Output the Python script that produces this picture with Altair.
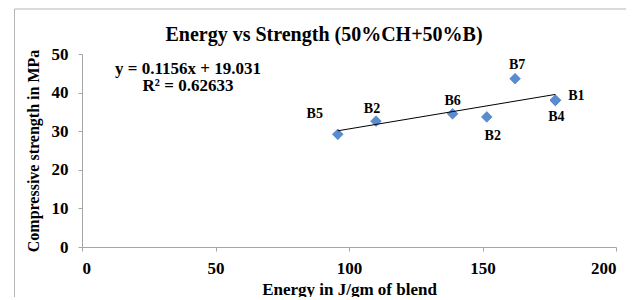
import altair as alt
import pandas as pd

# ---- data ----
labels = ["B5", "B2", "B6", "B2", "B7", "B1", "B4"]
energy = [95.8, 110.1, 138.8, 151.6, 162.2, 177.3, 177.3]
strength = [29.2, 32.6, 34.5, 33.7, 43.6, 38.0, 38.0]
slope = 0.1156
intercept = 19.031
eq_line1 = "y = 0.1156x + 19.031"
eq_line2 = "R² = 0.62633"
x_ticks = [0, 50, 100, 150, 200]
y_ticks = [0, 10, 20, 30, 40, 50]

FONT = "Liberation Serif"
BLUE = "#5A8CD2"

df = pd.DataFrame({"idx": list(range(len(labels))), "label": labels,
                   "energy": energy, "strength": strength})

xscale = alt.Scale(domain=[0, 200], nice=False)
yscale = alt.Scale(domain=[0, 50], nice=False)

xaxis = alt.Axis(values=x_ticks, title="Energy in J/gm of blend",
                 labelOverlap=False, tickCount=5)
yaxis = alt.Axis(values=y_ticks, title="Compressive strength in MPa",
                 labelOverlap=False, tickCount=6)
xenc = alt.X("energy:Q", scale=xscale, axis=xaxis)
yenc = alt.Y("strength:Q", scale=yscale, axis=yaxis)

base = alt.Chart(df)

# outer frame (decoration)
frame = alt.Chart(pd.DataFrame({"a": [0]})).mark_rect(
    fillOpacity=0, stroke="#b5b5b5", strokeWidth=1
).encode(x=alt.value(-67.5), x2=alt.value(570), y=alt.value(-45), y2=alt.value(280))

# trend line from the fitted equation
trend = base.transform_aggregate(
    xmin="min(energy)", xmax="max(energy)"
).transform_fold(["xmin", "xmax"], as_=["k", "energy"]).transform_calculate(
    strength=f"{slope} * datum.energy + {intercept}"
).mark_line(color="black", strokeWidth=1).encode(x=xenc, y=yenc)

points = base.mark_point(shape="diamond", filled=True, size=115, color=BLUE,
                         opacity=1, stroke="#4A78B8", strokeWidth=0.6).encode(
    x=xenc, y=yenc
)

offsets = [(-23, -16), (-4, -8), (0, -9), (6, 23), (2, -10), (21, 0), (1, 21)]
label_layers = []
for i, (dx, dy) in enumerate(offsets):
    label_layers.append(
        base.transform_filter(alt.datum.idx == i).mark_text(
            font=FONT, fontWeight="bold", fontSize=14, color="black",
            align="center", baseline="alphabetic", dx=dx, dy=dy
        ).encode(x=xenc, y=yenc, text="label:N")
    )

eq1 = alt.Chart(pd.DataFrame({"t": [eq_line1]})).mark_text(
    font=FONT, fontWeight="bold", fontSize=17, color="black",
    align="center", baseline="alphabetic"
).encode(x=alt.datum(39.7, scale=xscale, axis=xaxis),
         y=alt.datum(44.9, scale=yscale, axis=yaxis), text="t:N")
eq2 = alt.Chart(pd.DataFrame({"t": [eq_line2]})).mark_text(
    font=FONT, fontWeight="bold", fontSize=17, color="black",
    align="center", baseline="alphabetic"
).encode(x=alt.datum(39.7, scale=xscale, axis=xaxis),
         y=alt.datum(40.3, scale=yscale, axis=yaxis), text="t:N")

chart = alt.layer(points, frame, trend, *label_layers, eq1, eq2).properties(
    width=534, height=193,
    autosize=alt.AutoSizeParams(type="none"),
    padding={"left": 74, "top": 46, "right": 10, "bottom": 50},
    title=alt.Title("Energy vs Strength (50%CH+50%B)", font=FONT,
                    fontWeight="bold", fontSize=20, color="black",
                    anchor="middle", frame="group", dx=-25, offset=8, dy=44),
).configure_view(stroke=None).configure_axis(
    grid=False, domainColor="#a6a6a6", tickColor="#a6a6a6", tickSize=4,
    labelFont=FONT, labelFontWeight="bold", labelFontSize=17, labelColor="black",
    titleFont=FONT, titleFontWeight="bold", titleFontSize=16, titleColor="black",
    labelOverlap=False,
).configure_axisX(labelPadding=9, titlePadding=5, titleFontSize=17).configure_axisY(
    labelPadding=10, titlePadding=10
)

chart.save("out.html", embed_options={"renderer": "svg", "actions": False})
